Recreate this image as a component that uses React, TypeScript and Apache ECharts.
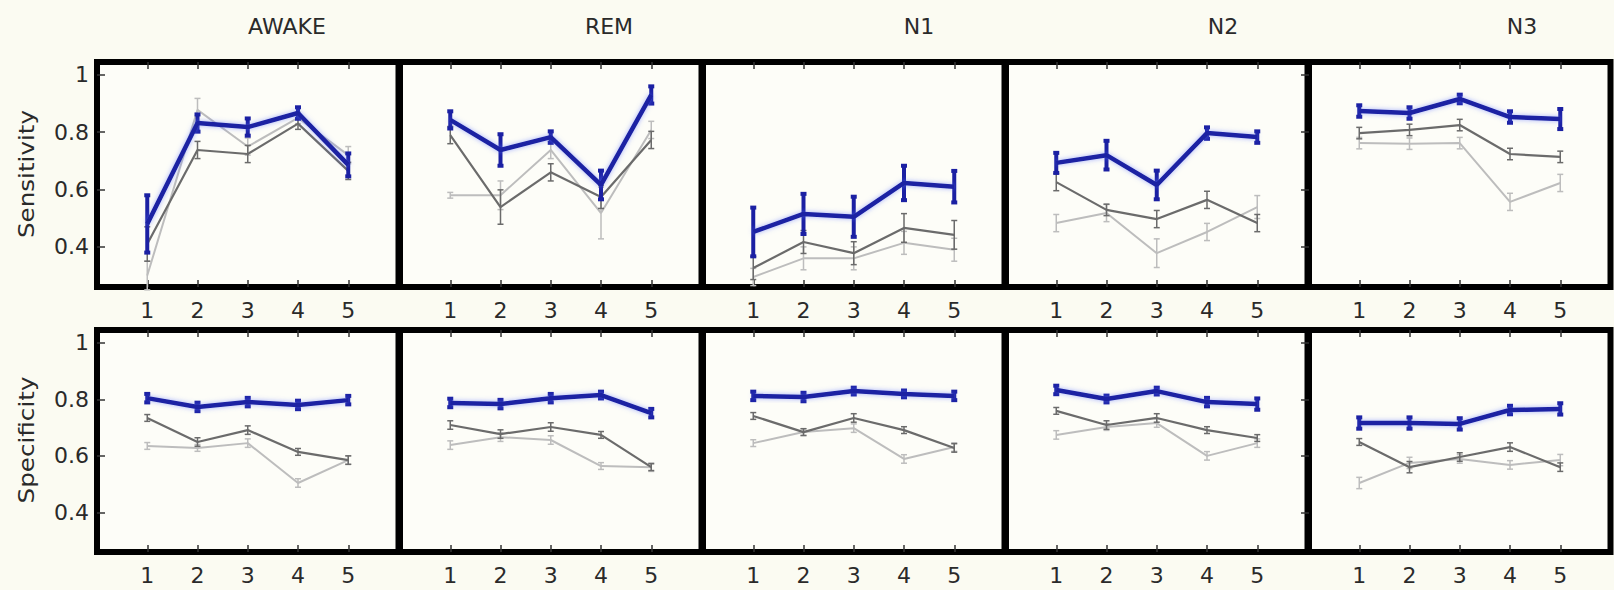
import React, { useEffect, useRef } from "react";
import * as echarts from "echarts";

const stages = ["AWAKE", "REM", "N1", "N2", "N3"];
const rowLabels = ["Sensitivity", "Specificity"];
const xValues = [1, 2, 3, 4, 5];
const yTickValues = [0.4, 0.6, 0.8, 1];

// Sensitivity (top row)
const sensBlue = [
  [0.48, 0.832, 0.818, 0.867, 0.686],
  [0.843, 0.738, 0.783, 0.616, 0.93],
  [0.452, 0.515, 0.505, 0.623, 0.61],
  [0.693, 0.72, 0.616, 0.797, 0.783],
  [0.874, 0.867, 0.916, 0.853, 0.846],
];
const sensBlueErr = [
  [0.1, 0.03, 0.03, 0.02, 0.04],
  [0.03, 0.055, 0.02, 0.05, 0.03],
  [0.085, 0.07, 0.07, 0.06, 0.055],
  [0.035, 0.05, 0.05, 0.02, 0.02],
  [0.02, 0.02, 0.015, 0.02, 0.035],
];
const sensDark = [
  [0.41, 0.738, 0.724, 0.83, 0.665],
  [0.79, 0.539, 0.66, 0.574, 0.773],
  [0.326, 0.417, 0.378, 0.466, 0.442],
  [0.626, 0.529, 0.497, 0.564, 0.483],
  [0.797, 0.808, 0.825, 0.724, 0.714],
];
const sensDarkErr = [
  [0.06, 0.03, 0.03, 0.02, 0.03],
  [0.03, 0.06, 0.03, 0.04, 0.03],
  [0.04, 0.04, 0.04, 0.05, 0.05],
  [0.03, 0.02, 0.03, 0.03, 0.03],
  [0.02, 0.02, 0.02, 0.02, 0.02],
];
const sensLight = [
  [0.3, 0.878, 0.75, 0.85, 0.72],
  [0.58, 0.58, 0.738, 0.518, 0.808],
  [0.295, 0.36, 0.36, 0.414, 0.39],
  [0.483, 0.518, 0.378, 0.452, 0.539],
  [0.762, 0.76, 0.762, 0.557, 0.623],
];
const sensLightErr = [
  [0.05, 0.04, 0.03, 0.02, 0.03],
  [0.01, 0.05, 0.03, 0.09, 0.03],
  [0.03, 0.04, 0.04, 0.04, 0.04],
  [0.03, 0.03, 0.05, 0.03, 0.04],
  [0.02, 0.02, 0.02, 0.03, 0.03],
];

// Specificity (bottom row)
const specBlue = [
  [0.804, 0.773, 0.79, 0.78, 0.797],
  [0.787, 0.783, 0.804, 0.815, 0.751],
  [0.812, 0.808, 0.829, 0.819, 0.812],
  [0.833, 0.801, 0.829, 0.79, 0.783],
  [0.716, 0.716, 0.713, 0.762, 0.766],
];
const specBlueErr = [
  [0.015, 0.015, 0.015, 0.015, 0.015],
  [0.015, 0.015, 0.015, 0.012, 0.015],
  [0.015, 0.015, 0.012, 0.012, 0.015],
  [0.015, 0.012, 0.012, 0.015, 0.02],
  [0.02, 0.02, 0.02, 0.015, 0.02],
];
const specDark = [
  [0.734, 0.649, 0.691, 0.614, 0.585],
  [0.709, 0.677, 0.702, 0.674, 0.56],
  [0.741, 0.684, 0.734, 0.691, 0.628],
  [0.759, 0.709, 0.734, 0.691, 0.663],
  [0.649, 0.56, 0.596, 0.631, 0.56],
];
const specDarkErr = [
  [0.012, 0.015, 0.015, 0.012, 0.015],
  [0.015, 0.015, 0.015, 0.012, 0.012],
  [0.012, 0.012, 0.015, 0.012, 0.015],
  [0.012, 0.015, 0.015, 0.012, 0.012],
  [0.012, 0.02, 0.015, 0.015, 0.015],
];
const specLight = [
  [0.635, 0.628, 0.645, 0.504, 0.585],
  [0.638, 0.666, 0.656, 0.564, 0.56],
  [0.645, 0.684, 0.698, 0.589, 0.631],
  [0.674, 0.702, 0.716, 0.6, 0.645],
  [0.504, 0.575, 0.589, 0.568, 0.585],
];
const specLightErr = [
  [0.012, 0.012, 0.015, 0.015, 0.015],
  [0.015, 0.015, 0.015, 0.012, 0.015],
  [0.012, 0.012, 0.015, 0.015, 0.015],
  [0.015, 0.012, 0.015, 0.015, 0.015],
  [0.02, 0.02, 0.015, 0.015, 0.02],
];

const titleCenters = [287, 609, 919, 1223, 1522];

const BLUE = "#1b20a3";
const DARK = "#6b6b6b";
const LIGHT = "#bdbdbd";
const FONT = "DejaVu Sans";
const TEXT = "#2a2a2a";

function errorSeries(gi: number, vals: number[], errs: number[], color: string, width: number, cap: number, z: number) {
  return {
    type: "custom",
    xAxisIndex: gi * 2,
    yAxisIndex: gi,
    z,
    silent: true,
    data: xValues.map((x, i) => [x, vals[i] - errs[i], vals[i] + errs[i]]),
    encode: { x: 0, y: [1, 2] },
    renderItem: (params: any, api: any) => {
      const x = api.value(0);
      const p1 = api.coord([x, api.value(1)]);
      const p2 = api.coord([x, api.value(2)]);
      const st = { stroke: color, lineWidth: width };
      return {
        type: "group",
        children: [
          { type: "line", shape: { x1: p1[0], y1: p1[1], x2: p2[0], y2: p2[1] }, style: st },
          { type: "line", shape: { x1: p1[0] - cap, y1: p1[1], x2: p1[0] + cap, y2: p1[1] }, style: st },
          { type: "line", shape: { x1: p2[0] - cap, y1: p2[1], x2: p2[0] + cap, y2: p2[1] }, style: st },
        ],
      };
    },
  };
}

function lineSeries(gi: number, vals: number[], color: string, width: number, z: number, glow: boolean) {
  return {
    type: "line",
    xAxisIndex: gi * 2,
    yAxisIndex: gi,
    z,
    silent: true,
    showSymbol: false,
    symbol: "none",
    data: xValues.map((x, i) => [x, vals[i]]),
    lineStyle: glow
      ? { color, width, shadowColor: "rgba(90,110,255,0.55)", shadowBlur: 5 }
      : { color, width },
  };
}

export default function App() {
  const ref = useRef<HTMLDivElement>(null);

  useEffect(() => {
    if (!ref.current) return;
    const chart = echarts.init(ref.current, undefined, { renderer: "svg" });

    const grids: any[] = [];
    const xAxes: any[] = [];
    const yAxes: any[] = [];
    const series: any[] = [];

    const rows = [
      { blue: sensBlue, blueErr: sensBlueErr, dark: sensDark, darkErr: sensDarkErr, light: sensLight, lightErr: sensLightErr, top: 62, height: 225 },
      { blue: specBlue, blueErr: specBlueErr, dark: specDark, darkErr: specDarkErr, light: specLight, lightErr: specLightErr, top: 330, height: 222 },
    ];

    rows.forEach((row, r) => {
      for (let c = 0; c < 5; c++) {
        const gi = r * 5 + c;
        grids.push({
          left: 97 + 303 * c,
          top: row.top,
          width: 301.5,
          height: row.height,
          show: true,
          borderColor: "#000",
          borderWidth: 6,
          backgroundColor: "#fdfdf8",
        });
        const tickStyle = { color: "#333", width: 1.5 };
        xAxes.push({
          gridIndex: gi,
          type: "value",
          min: 0,
          max: 6,
          interval: 1,
          position: "bottom",
          axisLine: { show: false },
          splitLine: { show: false },
          axisTick: { show: true, inside: true, length: 7, customValues: xValues, lineStyle: tickStyle },
          axisLabel: { show: true, customValues: xValues, margin: 12, fontSize: 22, fontFamily: FONT, color: TEXT },
        });
        xAxes.push({
          gridIndex: gi,
          type: "value",
          min: 0,
          max: 6,
          interval: 1,
          position: "top",
          axisLine: { show: false },
          splitLine: { show: false },
          axisTick: { show: true, inside: true, length: 7, customValues: xValues, lineStyle: tickStyle },
          axisLabel: { show: false },
        });
        yAxes.push({
          gridIndex: gi,
          type: "value",
          min: 0.26,
          max: 1.045,
          position: c === 4 ? "right" : "left",
          axisLine: { show: false },
          splitLine: { show: false },
          axisTick: { show: c === 0 || c === 4, inside: true, length: 8, customValues: yTickValues, lineStyle: tickStyle },
          axisLabel: {
            show: c === 0,
            customValues: yTickValues,
            margin: 8,
            fontSize: 22,
            fontFamily: FONT,
            color: TEXT,
            formatter: (v: number) => String(Math.round(v * 10) / 10),
          },
        });

        series.push(lineSeries(gi, row.light[c], LIGHT, 2, 2, false));
        series.push(errorSeries(gi, row.light[c], row.lightErr[c], LIGHT, 1.5, 3, 2));
        series.push(lineSeries(gi, row.dark[c], DARK, 2.2, 3, false));
        series.push(errorSeries(gi, row.dark[c], row.darkErr[c], DARK, 1.5, 3, 3));
        series.push(lineSeries(gi, row.blue[c], BLUE, 4.5, 4, true));
        series.push(errorSeries(gi, row.blue[c], row.blueErr[c], BLUE, 4, 3, 4));
      }
    });

    const graphics: any[] = [];
    stages.forEach((s, i) => {
      graphics.push({
        type: "text",
        x: titleCenters[i],
        y: 26,
        style: { text: s, fontSize: 22, fontFamily: FONT, fill: TEXT, textAlign: "center", textVerticalAlign: "middle" },
      });
    });
    rowLabels.forEach((s, r) => {
      graphics.push({
        type: "text",
        x: 26,
        y: r === 0 ? 174 : 440,
        rotation: Math.PI / 2,
        scaleX: 1.12,
        style: { text: s, fontSize: 22, fontFamily: FONT, fill: TEXT, textAlign: "center", textVerticalAlign: "middle" },
      });
    });

    chart.setOption({
      animation: false,
      backgroundColor: "#fbfbf2",
      grid: grids,
      xAxis: xAxes,
      yAxis: yAxes,
      series,
      graphic: graphics,
    });

    return () => chart.dispose();
  }, []);

  return (
    <div
      ref={ref}
      style={{ position: "fixed", left: 0, top: 0, width: 1614, height: 590 }}
    />
  );
}
